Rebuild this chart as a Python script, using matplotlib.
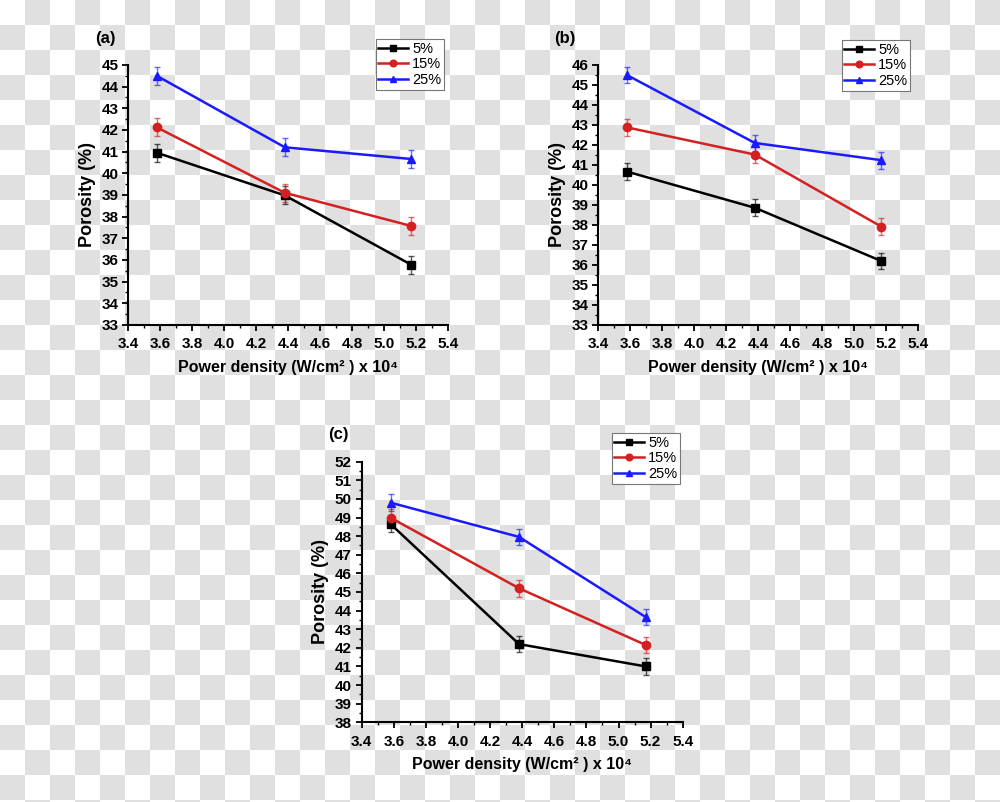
import matplotlib
matplotlib.use('Agg')
import matplotlib.pyplot as plt
import numpy as np

plt.rcParams['font.family'] = ['Liberation Sans', 'DejaVu Sans']

# ----- data -----
powerDensity = [3.58, 4.38, 5.17]
seriesNames = ['5%', '15%', '25%']

porosityA = [[40.95, 38.98, 35.78],
             [42.12, 39.1, 37.57],
             [44.5, 41.2, 40.66]]
porosityB = [[40.67, 38.86, 36.2],
             [42.88, 41.52, 37.92],
             [45.5, 42.1, 41.24]]
porosityC = [[48.65, 42.2, 41.0],
             [48.99, 45.2, 42.15],
             [49.8, 47.96, 43.65]]
errA = [0.42, 0.42, 0.42]
errB = [0.42, 0.42, 0.42]
errC = [0.45, 0.45, 0.45]

colors = ['#000000', '#d42020', '#1a1aff']
markers = ['s', 'o', '^']

fig = plt.figure(figsize=(10, 8.02), dpi=100)

# checkered background
ii, jj = np.indices((802, 1000))
checker = ((ii // 25 + jj // 25) % 2).astype(float)
bg = np.ones((802, 1000, 3))
bg[checker == 1] = 224 / 255
fig.figimage(bg, xo=0, yo=0, origin='upper', zorder=-10)


def makePanel(rect, data, errs, ylim, tag, tagPos, legTopRight):
    ax = fig.add_axes(rect)
    ax.set_facecolor('none')
    for k in range(3):
        ax.errorbar(powerDensity, data[k], yerr=errs[k], fmt='none',
                    ecolor=colors[k], elinewidth=1, capsize=2.5, capthick=1,
                    alpha=0.65, zorder=2)
        ax.plot(powerDensity, data[k], color=colors[k], marker=markers[k],
                markersize=6, linewidth=1.8, label=seriesNames[k], zorder=3)
    ax.set_xlim(3.4, 5.4)
    ax.set_ylim(*ylim)
    ax.set_xticks(np.arange(3.4, 5.41, 0.2))
    ax.set_xticks(np.arange(3.5, 5.4, 0.2), minor=True)
    ax.set_yticks(np.arange(ylim[0], ylim[1] + 1, 1))
    ax.set_yticks(np.arange(ylim[0] + 0.5, ylim[1], 1), minor=True)
    ax.xaxis.set_major_formatter(matplotlib.ticker.FormatStrFormatter('%.1f'))
    ax.spines['top'].set_visible(False)
    ax.spines['right'].set_visible(False)
    ax.spines['left'].set_linewidth(1.5)
    ax.spines['bottom'].set_linewidth(1.5)
    ax.tick_params(which='major', direction='out', length=4, width=1.3,
                   labelsize=11, pad=3)
    ax.tick_params(axis='x', which='major', pad=5)
    ax.tick_params(which='minor', direction='out', length=2.5, width=1)
    for lab in ax.get_xticklabels() + ax.get_yticklabels():
        lab.set_fontweight('bold')
    ax.set_ylabel('Porosity (%)', fontsize=13, fontweight='bold', labelpad=4)
    ax.set_xlabel('Power density (W/cm² ) x 10⁴', fontsize=11.5,
                  fontweight='bold', labelpad=6)
    fig.text(tagPos[0], tagPos[1], tag, fontsize=12, fontweight='bold',
             ha='center', va='center')
    leg = ax.legend(loc='upper right', bbox_to_anchor=legTopRight,
                    bbox_transform=fig.transFigure, fontsize=10.5,
                    frameon=True, fancybox=False, edgecolor='#777777',
                    framealpha=1, handlelength=2.0, labelspacing=0.1,
                    borderpad=0.2, handletextpad=0.3, borderaxespad=0,
                    markerscale=0.8)
    leg.get_frame().set_linewidth(0.8)
    return ax


makePanel([0.128, 0.5948, 0.32, 0.3242], porosityA, errA, (33, 45), '(a)',
          (105 / 1000, 1 - 38 / 802), (0.444, 1 - 39 / 802))
makePanel([0.598, 0.5948, 0.32, 0.3242], porosityB, errB, (33, 46), '(b)',
          (565 / 1000, 1 - 38 / 802), (0.910, 1 - 40 / 802))
makePanel([0.3617, 0.0994, 0.321, 0.3249], porosityC, errC, (38, 52), '(c)',
          (338 / 1000, 1 - 435 / 802), (0.680, 1 - 433 / 802))

plt.savefig('out.png', dpi=100)
